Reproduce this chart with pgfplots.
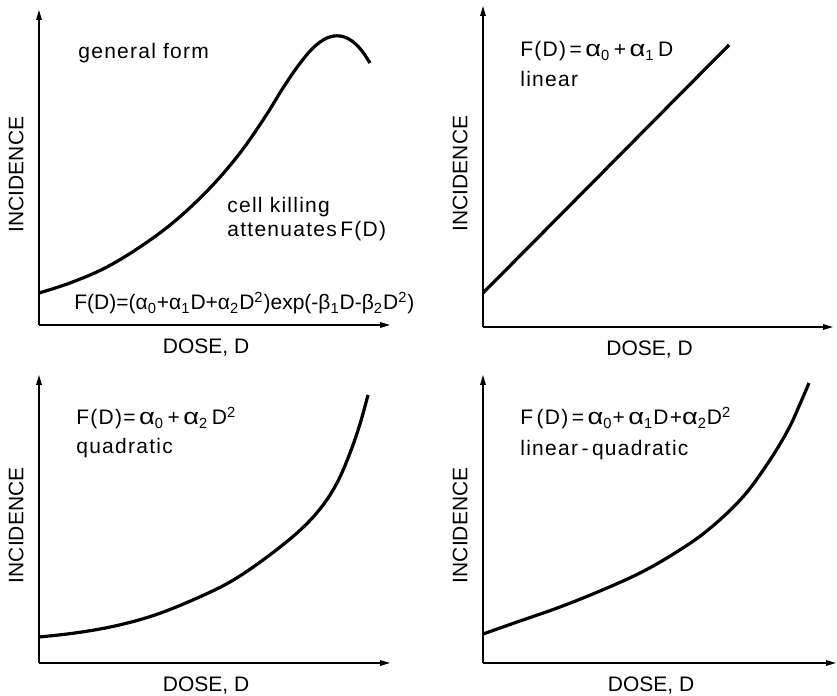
\documentclass[border=0pt]{standalone}
\usepackage{fontspec}
\setmainfont{Liberation Sans}
\newfontfamily\annot[LetterSpace=6]{Liberation Sans}
\usepackage{graphicx}
\usepackage{pgfplots}
\pgfplotsset{compat=1.18}
\usetikzlibrary{arrows.meta}
\newcommand\al{\scalebox{1.3}[1.08]{α}}

\pgfplotsset{
  panel/.style={
    scale only axis,
    axis lines=left,
    axis line style={line width=0.65pt, -{Triangle[length=5pt,width=2.8pt]}},
    xtick=\empty, ytick=\empty,
    clip=false,
    x=0.5pt, y=0.5pt,
    anchor=south west,
    font=\fontsize{10.5}{12}\selectfont,
    xlabel={DOSE, D}, ylabel={INCIDENCE},
    xlabel style={at={(axis description cs:0.476,0)}, anchor=base, yshift=-14.5pt},
    ylabel style={at={(axis description cs:-0.065,0.478)}, anchor=center},
  },
  curve/.style={black, line width=1.6pt, smooth, tension=0.6, no markers},
}

\begin{document}
\begin{tikzpicture}
\path[use as bounding box] (0,0) rectangle (418.5pt,348pt);

% top left: general form
\begin{axis}[panel, at={(19.5pt,185.5pt)}, xmin=39, xmax=390, ymin=371, ymax=686]
\addplot[curve] coordinates {(39,403) (70,413) (105,428) (140,449) (175,475) (210,508) (240,543) (265,579) (283,608) (298,630) (313,648) (327,658) (340,660) (352,655) (362,645) (370,633)};
\node[anchor=base west, inner sep=0pt] at (axis cs:78,637) {\annot general form};
\node[anchor=base west, inner sep=0pt] at (axis cs:227,483) {\annot cell killing};
\node[anchor=base west, inner sep=0pt] at (axis cs:227,459) {\annot attenuates\,F(D)};
\node[anchor=base west, inner sep=0pt] at (axis cs:74,386) {F(D)=(α\textsubscript{0}+α\textsubscript{1}D+α\textsubscript{2}D\textsuperscript{2})exp(-β\textsubscript{1}D-β\textsubscript{2}D\textsuperscript{2})};
\end{axis}

% top right: linear
\begin{axis}[panel, at={(241.5pt,184.5pt)}, xmin=483, xmax=833, ymin=369, ymax=690]
\addplot[curve, sharp plot] coordinates {(483,403) (729,651)};
\node[anchor=base west, inner sep=0pt] at (axis cs:520,639) {\annot F(D)\,=\,\al\textsubscript{0}\,+\,\al\textsubscript{1}\,D};
\node[anchor=base west, inner sep=0pt] at (axis cs:520,609) {\annot linear};
\end{axis}

% bottom left: quadratic
\begin{axis}[panel, at={(19.5pt,16.5pt)}, xmin=39, xmax=390, ymin=33, ymax=321]
\addplot[curve] coordinates {(39,59) (75,63) (115,70) (155,81) (195,97) (230,114) (263,136) (297,163) (320,187) (337,213) (350,243) (360,272) (368,301)};
\node[anchor=base west, inner sep=0pt] at (axis cs:76,271) {\annot F(D)=\,\al\textsubscript{0}\,+\,\al\textsubscript{2}\,D\textsuperscript{2}};
\node[anchor=base west, inner sep=0pt] at (axis cs:76,242) {\annot quadratic};
\end{axis}

% bottom right: linear-quadratic
\begin{axis}[panel, at={(241.5pt,16.5pt)}, xmin=483, xmax=836, ymin=33, ymax=321]
\addplot[curve] coordinates {(483,62) (520,75) (560,89) (600,105) (640,123) (675,143) (708,166) (742,198) (768,233) (788,266) (800,292) (809,313)};
\node[anchor=base west, inner sep=0pt] at (axis cs:520,271) {\annot F\,(D)\,=\,\al\textsubscript{0}+\,\al\textsubscript{1}D+\al\textsubscript{2}D\textsuperscript{2}};
\node[anchor=base west, inner sep=0pt] at (axis cs:520,240) {\annot linear\,-\,quadratic};
\end{axis}
\end{tikzpicture}
\end{document}
